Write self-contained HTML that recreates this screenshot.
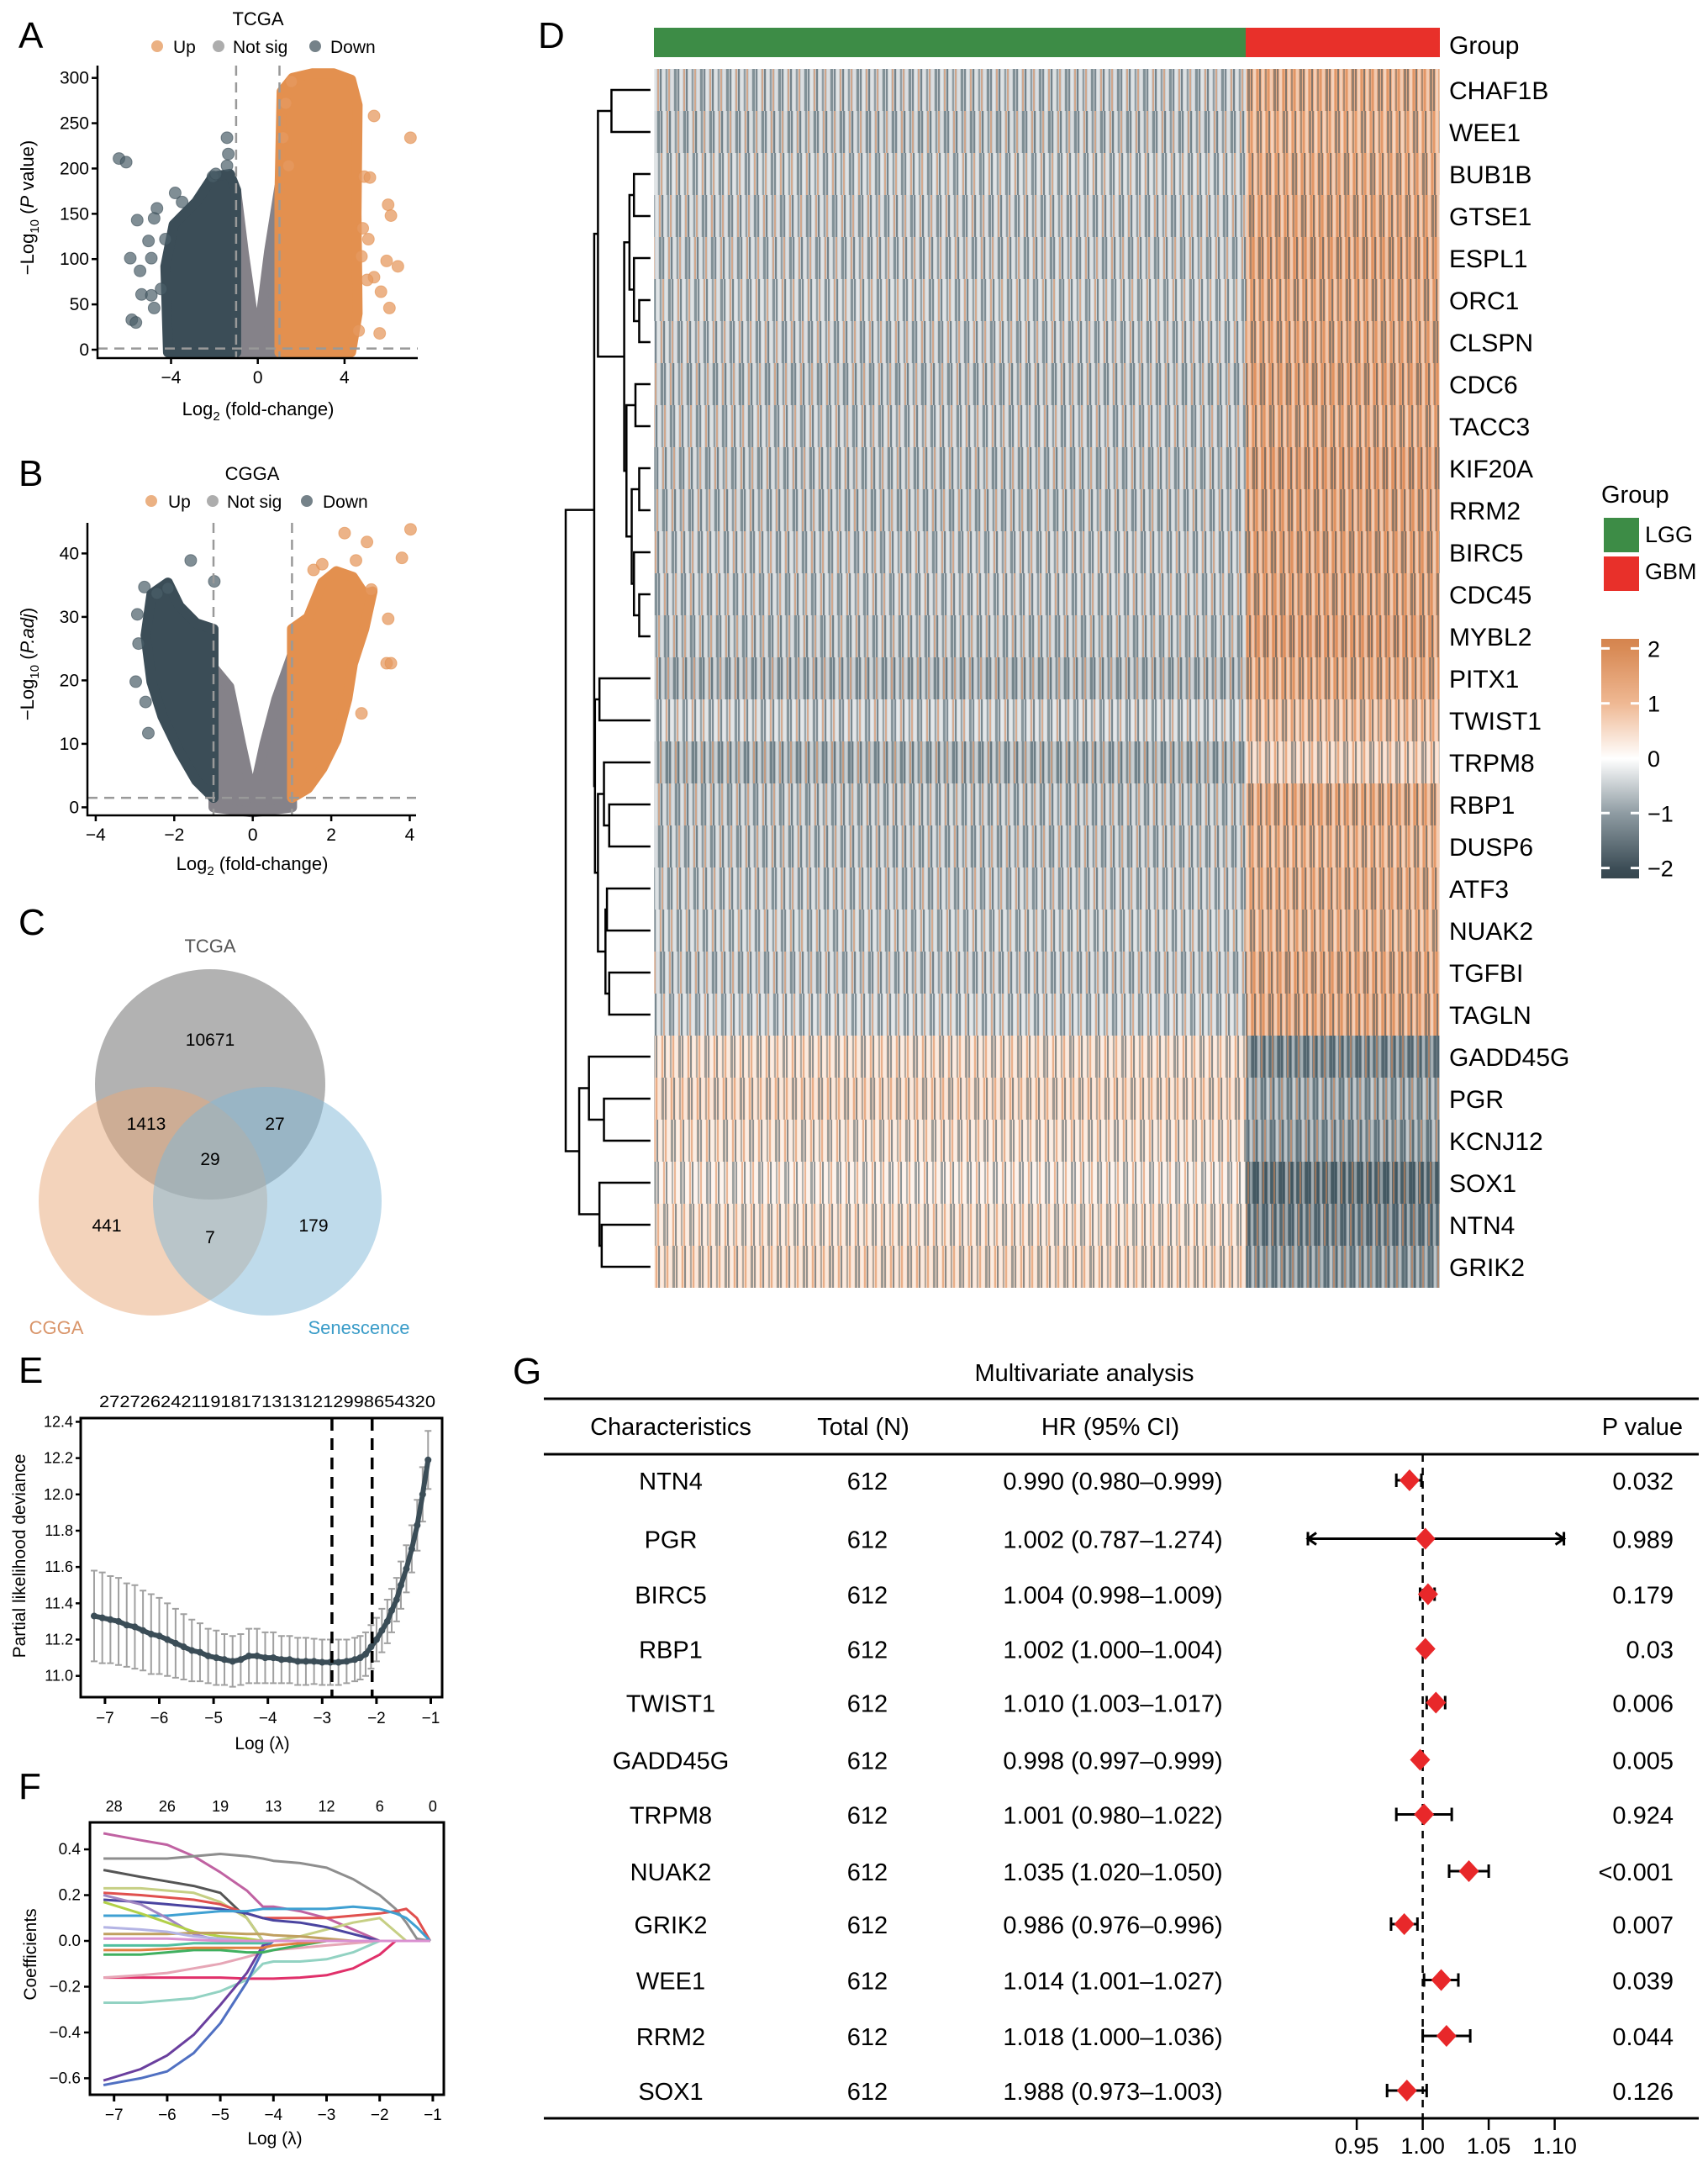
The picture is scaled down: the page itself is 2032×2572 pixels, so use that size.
<!DOCTYPE html>
<html><head><meta charset="utf-8">
<style>
html,body{margin:0;padding:0;background:#fff;}
svg{display:block;font-family:"Liberation Sans",Arial,sans-serif;}
</style></head>
<body>
<svg id="fig" width="2032" height="2572" viewBox="0 0 2032 2572" xmlns="http://www.w3.org/2000/svg">
<defs>
<pattern id="tex" width="31" height="50" patternUnits="userSpaceOnUse">
<rect x="0" y="0" width="2" height="50" fill="#2f4651" fill-opacity="0.5"/>
<rect x="3" y="0" width="3" height="50" fill="#ffffff" fill-opacity="0.45"/>
<rect x="7" y="0" width="2" height="50" fill="#d9814a" fill-opacity="0.5"/>
<rect x="10" y="0" width="2" height="50" fill="#2f4651" fill-opacity="0.55"/>
<rect x="13" y="0" width="3" height="50" fill="#ffffff" fill-opacity="0.4"/>
<rect x="17" y="0" width="2" height="50" fill="#2f4651" fill-opacity="0.35"/>
<rect x="20" y="0" width="2" height="50" fill="#d9814a" fill-opacity="0.5"/>
<rect x="23" y="0" width="3" height="50" fill="#ffffff" fill-opacity="0.35"/>
<rect x="27" y="0" width="3" height="50" fill="#2f4651" fill-opacity="0.45"/>
</pattern>
<clipPath id="hmclip"><rect x="778.3" y="82" width="934.3" height="1450"/></clipPath>
<linearGradient id="cbar" x1="0" y1="0" x2="0" y2="1">
<stop offset="0" stop-color="#d5844e"/>
<stop offset="0.04" stop-color="#d88a55"/>
<stop offset="0.27" stop-color="#efb893"/>
<stop offset="0.5" stop-color="#ffffff"/>
<stop offset="0.73" stop-color="#8e9ba2"/>
<stop offset="0.96" stop-color="#3c4d56"/>
<stop offset="1" stop-color="#37474f"/>
</linearGradient>
</defs>

<text x="22" y="57" font-size="44">A</text>
<text x="22" y="578" font-size="44">B</text>
<text x="22" y="1112" font-size="44">C</text>
<text x="22" y="1645" font-size="44">E</text>
<text x="22" y="2140" font-size="44">F</text>
<text x="640" y="57" font-size="44">D</text>
<text x="610" y="1646" font-size="44">G</text>

<g>
<text x="307" y="30" font-size="22" text-anchor="middle">TCGA</text>
<circle cx="187" cy="55" r="7" fill="#e3904f" fill-opacity="0.7"/>
<text x="206" y="63" font-size="21">Up</text>
<circle cx="260" cy="55" r="7" fill="#8a8a8a" fill-opacity="0.7"/>
<text x="277" y="63" font-size="21">Not sig</text>
<circle cx="375" cy="55" r="7" fill="#3b4d57" fill-opacity="0.7"/>
<text x="393" y="63" font-size="21">Down</text>
<text transform="translate(40,247) rotate(-90)" font-size="22" text-anchor="middle">−Log<tspan font-size="15" dy="6">10</tspan><tspan dy="-6"> (</tspan><tspan font-style="italic">P</tspan> value)</text>
<text x="307" y="494" font-size="22" text-anchor="middle">Log<tspan font-size="15" dy="6">2</tspan><tspan dy="-6"> (fold-change)</tspan></text>
</g>
<g id="gA"></g>

<g>
<text x="300" y="571" font-size="22" text-anchor="middle">CGGA</text>
<circle cx="180" cy="596" r="7" fill="#e3904f" fill-opacity="0.7"/>
<text x="200" y="604" font-size="21">Up</text>
<circle cx="253" cy="596" r="7" fill="#8a8a8a" fill-opacity="0.7"/>
<text x="270" y="604" font-size="21">Not sig</text>
<circle cx="365" cy="596" r="7" fill="#3b4d57" fill-opacity="0.7"/>
<text x="384" y="604" font-size="21">Down</text>
<text transform="translate(40,790) rotate(-90)" font-size="22" text-anchor="middle">−Log<tspan font-size="15" dy="6">10</tspan><tspan dy="-6"> (</tspan><tspan font-style="italic">P.adj</tspan>)</text>
<text x="300" y="1035" font-size="22" text-anchor="middle">Log<tspan font-size="15" dy="6">2</tspan><tspan dy="-6"> (fold-change)</tspan></text>
</g>
<g id="gB"></g>

<g>
<circle cx="250" cy="1290" r="137" fill="#7f7f7f" fill-opacity="0.6"/>
<circle cx="182" cy="1429" r="136" fill="#e8a878" fill-opacity="0.5"/>
<circle cx="318" cy="1429" r="136" fill="#7fb8d8" fill-opacity="0.5"/>
<text x="250" y="1133" font-size="22" text-anchor="middle" fill="#555">TCGA</text>
<text x="250" y="1244" font-size="21" text-anchor="middle">10671</text>
<text x="174" y="1344" font-size="21" text-anchor="middle">1413</text>
<text x="327" y="1344" font-size="21" text-anchor="middle">27</text>
<text x="250" y="1386" font-size="21" text-anchor="middle">29</text>
<text x="127" y="1465" font-size="21" text-anchor="middle">441</text>
<text x="250" y="1479" font-size="21" text-anchor="middle">7</text>
<text x="373" y="1465" font-size="21" text-anchor="middle">179</text>
<text x="67" y="1587" font-size="22" text-anchor="middle" fill="#d9956a">CGGA</text>
<text x="427" y="1587" font-size="22" text-anchor="middle" fill="#3a9cc8">Senescence</text>
</g>

<g>
<text x="118" y="1674" font-size="19" textLength="400" lengthAdjust="spacingAndGlyphs">272726242119181713131212998654320</text>
<rect x="96" y="1687" width="430" height="332" fill="none" stroke="#000" stroke-width="3"/>
<text transform="translate(30,1851) rotate(-90)" font-size="21" text-anchor="middle">Partial likelihood deviance</text>
<text x="312" y="2081" font-size="21" text-anchor="middle">Log (λ)</text>
</g>
<g id="gE"></g>

<g>
<rect x="107" y="2168" width="421" height="324" fill="none" stroke="#000" stroke-width="3"/>
<text transform="translate(43,2325) rotate(-90)" font-size="21" text-anchor="middle">Coefficients</text>
<text x="327" y="2551" font-size="21" text-anchor="middle">Log (λ)</text>
</g>
<g id="gF"></g>

<g>
<rect x="778" y="33" width="704" height="35" fill="#3d8c46"/>
<rect x="1482" y="33" width="231" height="35" fill="#e8302a"/>
<text x="1724" y="64" font-size="30">Group</text>
<text x="1905" y="598" font-size="29">Group</text>
<rect x="1908" y="616" width="42" height="41" fill="#3d8c46"/>
<text x="1957" y="645" font-size="27">LGG</text>
<rect x="1908" y="662" width="42" height="41" fill="#e8302a"/>
<text x="1957" y="689" font-size="27">GBM</text>
<rect x="1905" y="760" width="45" height="285" fill="url(#cbar)"/>
</g>
<g id="gD"></g>

<g>
<text x="1290" y="1643" font-size="29" text-anchor="middle">Multivariate analysis</text>
<line x1="647" y1="1664" x2="2021" y2="1664" stroke="#000" stroke-width="3"/>
<text x="798" y="1707" font-size="29" text-anchor="middle">Characteristics</text>
<text x="1027" y="1707" font-size="29" text-anchor="middle">Total (N)</text>
<text x="1321" y="1707" font-size="29" text-anchor="middle">HR (95% CI)</text>
<text x="2002" y="1707" font-size="29" text-anchor="end">P value</text>
<line x1="647" y1="1730" x2="2021" y2="1730" stroke="#000" stroke-width="3"/>
<line x1="647" y1="2520" x2="2021" y2="2520" stroke="#000" stroke-width="3"/>
<line x1="1692.6" y1="1730" x2="1692.6" y2="2520" stroke="#000" stroke-width="2.5" stroke-dasharray="9,7"/>
</g>
<g id="gG"></g>
</svg>

<script>
const aUpCloud = [[1.0,-3],[1.0,170],[1.1,285],[1.6,300],[2.5,305],[3.5,305],[4.3,298],[4.6,270],[4.55,150],[4.6,40],[4.3,-3]];
const aDownCloud = [[-4.14,-3],[-4.26,92],[-3.88,138],[-2.84,163],[-2.07,191],[-1.29,194],[-1.0,176],[-1.0,-3]];
const aNsCloud = [[-1.0,-3],[-1.0,176],[-0.65,108],[-0.13,21],[0.06,21],[0.52,108],[1.0,180],[1.0,-3]];
const aDownPts = [[-6.40,211],[-6.07,207],[-5.56,143],[-4.65,156],[-4.78,145],[-5.04,120],[-5.88,101],[-5.43,87],[-4.91,101],[-4.26,122],[-5.36,61],[-4.91,60],[-4.78,46],[-5.81,33],[-5.62,30],[-4.46,67],[-3.81,173],[-3.49,163],[-1.42,234],[-1.36,216],[-1.42,203],[-2.07,191],[-1.94,194]];
const aUpPts = [[7.04,234],[5.36,258],[4.91,191],[5.17,190],[6.01,160],[6.14,148],[5.94,98],[6.46,92],[4.84,134],[5.10,122],[4.78,103],[5.36,80],[5.04,77],[5.68,64],[6.07,46],[5.62,18],[4.65,21],[1.16,234],[1.55,296],[1.29,272],[1.42,203]];
const aXTicks = [-4,0,4];
const aYTicks = [0,50,100,150,200,250,300];

const bUpCloud = [[1.0,1.5],[1.0,28.1],[1.41,29.9],[1.77,35.4],[2.13,37.2],[2.55,36.3],[2.84,33.6],[3.05,34.0],[2.84,28.1],[2.55,22.6],[2.41,17.1],[2.13,10.6],[1.77,6.1],[1.41,3.0]];
const bDownCloud = [[-1.0,1.5],[-1.44,4.2],[-1.87,8.8],[-2.3,14.3],[-2.58,19.8],[-2.73,27.1],[-2.58,33.6],[-2.16,35.4],[-1.87,31.7],[-1.44,29.0],[-1.0,28.1]];
const bNsCloud = [[-1.0,0],[-1.0,22],[-0.6,19],[-0.3,10],[0,1.5],[0.3,10],[0.6,17],[1.0,24],[1.0,0],[0,-0.8]];
const bDownPts = [[-2.76,34.7],[-2.94,30.4],[-2.91,25.8],[-2.98,19.8],[-2.73,16.6],[-2.66,11.7],[-1.58,38.9],[-0.98,35.6],[-2.44,33.7],[-2.16,34.5]];
const bUpPts = [[4.02,43.8],[3.80,39.3],[2.91,41.8],[2.34,43.2],[2.63,38.9],[3.45,29.7],[3.41,22.7],[3.52,22.7],[3.02,34.3],[1.55,37.4],[1.77,38.3],[2.77,14.8]];
const bXTicks = [-4,-2,0,2,4];
const bYTicks = [0,10,20,30,40];

const eLam = [-7.2,-7.05,-6.9,-6.75,-6.6,-6.45,-6.3,-6.15,-6.0,-5.85,-5.7,-5.55,-5.4,-5.25,-5.1,-4.95,-4.8,-4.65,-4.5,-4.35,-4.2,-4.05,-3.9,-3.75,-3.6,-3.45,-3.3,-3.15,-3.0,-2.85,-2.7,-2.55,-2.4,-2.3,-2.2,-2.1,-2.0,-1.9,-1.8,-1.72,-1.63,-1.55,-1.45,-1.35,-1.25,-1.15,-1.05];
const eMean = [11.33,11.32,11.31,11.30,11.28,11.27,11.25,11.23,11.22,11.20,11.18,11.16,11.14,11.13,11.11,11.10,11.09,11.08,11.09,11.11,11.11,11.10,11.10,11.09,11.09,11.08,11.08,11.08,11.075,11.075,11.075,11.08,11.09,11.10,11.12,11.16,11.20,11.25,11.30,11.36,11.42,11.50,11.59,11.70,11.83,12.0,12.19];
const eSE = [0.25,0.25,0.24,0.24,0.23,0.23,0.22,0.22,0.21,0.20,0.19,0.18,0.17,0.16,0.15,0.15,0.14,0.14,0.14,0.15,0.15,0.14,0.14,0.13,0.13,0.13,0.13,0.125,0.125,0.125,0.125,0.12,0.12,0.12,0.12,0.12,0.12,0.12,0.12,0.12,0.12,0.13,0.13,0.13,0.14,0.15,0.16];
const eCut = [-2.82,-2.08];
const eXTicks = [-7,-6,-5,-4,-3,-2,-1];
const eYTicks = [11.0,11.2,11.4,11.6,11.8,12.0,12.2,12.4];

const fLam = [-7.2,-6.5,-6,-5.5,-5,-4.5,-4.2,-4,-3.5,-3,-2.5,-2,-1.7,-1.5,-1.3,-1.05];
const fColors = ["#c062a2","#8e8e8e","#555555","#c6cf84","#e0504e","#4a44a0","#3fa0d2","#a186c2","#b2d048","#e0306a","#e6a6b6","#92d2c2","#6a3f9e","#5070c2","#40b060","#e08040","#c0a060","#b4b4e4","#50c0a0","#d990d0"];
const fSeries = [
 [0.47,0.44,0.42,0.37,0.30,0.22,0.15,0.15,0.13,0.10,0.05,0.0,0,0,0,0],
 [0.36,0.36,0.36,0.37,0.38,0.37,0.36,0.35,0.34,0.32,0.27,0.20,0.14,0.08,0.01,0],
 [0.31,0.28,0.26,0.24,0.21,0.10,0.0,0,0,0,0,0,0,0,0,0],
 [0.23,0.23,0.22,0.21,0.17,0.10,0.0,0.0,0.02,0.05,0.08,0.10,0.04,0,0,0],
 [0.21,0.20,0.19,0.18,0.16,0.12,0.10,0.10,0.10,0.10,0.11,0.12,0.13,0.14,0.10,0],
 [0.18,0.17,0.16,0.15,0.14,0.12,0.10,0.09,0.08,0.06,0.03,0.0,0,0,0,0],
 [0.11,0.11,0.11,0.12,0.13,0.13,0.14,0.14,0.14,0.14,0.15,0.14,0.12,0.10,0.06,0],
 [0.20,0.16,0.10,0.03,0.0,0,0,0,0,0,0,0,0,0,0,0],
 [0.17,0.12,0.08,0.04,0.02,0.01,0,0,0,0,0,0,0,0,0,0],
 [-0.16,-0.16,-0.16,-0.16,-0.16,-0.165,-0.165,-0.165,-0.16,-0.15,-0.12,-0.06,0,0,0,0],
 [-0.16,-0.15,-0.14,-0.12,-0.10,-0.07,-0.05,-0.04,-0.03,-0.02,-0.01,0,0,0,0,0],
 [-0.27,-0.27,-0.26,-0.25,-0.22,-0.17,-0.10,-0.09,-0.09,-0.08,-0.05,0,0,0,0,0],
 [-0.61,-0.56,-0.50,-0.41,-0.28,-0.14,-0.02,0,0,0,0,0,0,0,0,0],
 [-0.63,-0.60,-0.57,-0.49,-0.36,-0.18,-0.04,0,0,0,0,0,0,0,0,0],
 [-0.06,-0.06,-0.05,-0.04,-0.04,-0.05,-0.05,-0.04,-0.02,0,0,0,0,0,0,0],
 [-0.04,-0.04,-0.035,-0.03,-0.03,-0.03,-0.03,-0.02,-0.01,0,0,0,0,0,0,0],
 [0.03,0.03,0.03,0.035,0.035,0.03,0.03,0.025,0.02,0.01,0,0,0,0,0,0],
 [0.06,0.05,0.04,0.02,0.01,0,0,0,0,0,0,0,0,0,0,0],
 [-0.02,-0.02,-0.02,-0.01,-0.01,-0.01,-0.01,0,0,0,0,0,0,0,0,0],
 [0.01,0.01,0.01,0.005,0,0,0,0,0,0,0,0,0,0,0,0]
];
const fTopLam = [-7,-6,-5,-4,-3,-2,-1];
const fTopCounts = ["28","26","19","13","12","6","0"];
const fXTicks = [-7,-6,-5,-4,-3,-2,-1];
const fYTicks = [-0.6,-0.4,-0.2,0.0,0.2,0.4];

const genes = ["CHAF1B","WEE1","BUB1B","GTSE1","ESPL1","ORC1","CLSPN","CDC6","TACC3","KIF20A","RRM2","BIRC5","CDC45","MYBL2","PITX1","TWIST1","TRPM8","RBP1","DUSP6","ATF3","NUAK2","TGFBI","TAGLN","GADD45G","PGR","KCNJ12","SOX1","NTN4","GRIK2"];
const lggMean = [-0.5,-0.55,-0.45,-0.5,-0.5,-0.45,-0.5,-0.55,-0.5,-0.55,-0.55,-0.5,-0.5,-0.55,-0.7,-0.4,-0.75,-0.55,-0.55,-0.5,-0.45,-0.5,-0.4,0.45,0.55,0.4,0.25,0.4,0.5];
const gbmMean = [1.2,1.1,1.2,1.3,1.4,1.3,1.3,1.4,1.3,1.5,1.4,1.4,1.4,1.5,1.3,0.9,0.6,1.3,1.1,1.2,1.1,1.3,1.3,-1.3,-0.9,-1.0,-1.6,-1.4,-1.1];
const cbarTicks = [2,1,0,-1,-2];
const dendroTree = [37,
  [75,
    [80,[98,0,1],[115,[122,[128,2,3],[128,4,[135,5,6]]],[118,[130,7,8],[125,[135,9,10],[128,11,[135,12,13]]]]]],
    [76,[82,14,15],[80,[88,16,[95,17,18]],[90,[92,19,20],[95,21,22]]]]],
  [55,[68,23,[88,24,25]],[82,26,[85,27,28]]]];

const fgGenes = ["NTN4","PGR","BIRC5","RBP1","TWIST1","GADD45G","TRPM8","NUAK2","GRIK2","WEE1","RRM2","SOX1"];
const fgN = ["612","612","612","612","612","612","612","612","612","612","612","612"];
const fgHRtext = ["0.990 (0.980–0.999)","1.002 (0.787–1.274)","1.004 (0.998–1.009)","1.002 (1.000–1.004)","1.010 (1.003–1.017)","0.998 (0.997–0.999)","1.001 (0.980–1.022)","1.035 (1.020–1.050)","0.986 (0.976–0.996)","1.014 (1.001–1.027)","1.018 (1.000–1.036)","1.988 (0.973–1.003)"];
const fgHR = [0.990,1.002,1.004,1.002,1.010,0.998,1.001,1.035,0.986,1.014,1.018,0.988];
const fgLo = [0.980,0.787,0.998,1.000,1.003,0.997,0.980,1.020,0.976,1.001,1.000,0.973];
const fgHi = [0.999,1.274,1.009,1.004,1.017,0.999,1.022,1.050,0.996,1.027,1.036,1.003];
const fgP = ["0.032","0.989","0.179","0.03","0.006","0.005","0.924","<0.001","0.007","0.039","0.044","0.126"];
const fgTicks = [0.95,1.00,1.05,1.10];
const fgTickLabels = ["0.95","1.00","1.05","1.10"];

const NS = "http://www.w3.org/2000/svg";
function mk(tag, attrs, parent){
  const e = document.createElementNS(NS, tag);
  for (const k in attrs) e.setAttribute(k, attrs[k]);
  parent.appendChild(e);
  return e;
}
function txt(parent, x, y, s, size, anchor){
  const t = mk("text", {x:x, y:y, "font-size":size, "text-anchor":anchor||"start"}, parent);
  t.textContent = s;
  return t;
}
function fmt(v, d){ return (v<0?"−":"") + Math.abs(v).toFixed(d); }

function volcano(g, xs, ys, cfg){
  const polys = [[cfg.ns,"#858289","ns-cloud"],[cfg.down,"#3b4d57","down-cloud"],[cfg.up,"#e3904f","up-cloud"]];
  polys.forEach(p=>{
    const pts = p[0].map(q=>xs(q[0]).toFixed(1)+","+ys(q[1]).toFixed(1)).join(" ");
    const el = mk("polygon",{points:pts, fill:p[1], stroke:p[1], "stroke-width":12, "stroke-linejoin":"round"}, g);
    
    
  });
  cfg.downPts.forEach(q=>{
    const c = mk("circle",{cx:xs(q[0]), cy:ys(q[1]), r:7, fill:"#4a5e68", "fill-opacity":0.7, stroke:"#3b4d57", "stroke-opacity":0.6}, g);
    
    
  });
  cfg.upPts.forEach(q=>{
    const c = mk("circle",{cx:xs(q[0]), cy:ys(q[1]), r:7, fill:"#e69a60", "fill-opacity":0.75, stroke:"#e3904f", "stroke-opacity":0.6}, g);
    
    
  });
  [-1,1].forEach(v=>{
    const l = mk("line",{x1:xs(v), x2:xs(v), y1:cfg.top, y2:cfg.bottom, stroke:"#999", "stroke-width":2.5, "stroke-dasharray":"12,8"}, g);
    
    
  });
  const h = mk("line",{x1:cfg.left, x2:cfg.right, y1:ys(cfg.pth), y2:ys(cfg.pth), stroke:"#999", "stroke-width":2.5, "stroke-dasharray":"12,8"}, g);
  
  
  const ax = mk("path",{d:`M${cfg.left},${cfg.top} V${cfg.bottom} H${cfg.right}`, fill:"none", stroke:"#000", "stroke-width":2.5}, g);
  
  
  cfg.yt.forEach(v=>{
    const tk = mk("line",{x1:cfg.left-7, x2:cfg.left, y1:ys(v), y2:ys(v), stroke:"#000", "stroke-width":2.5}, g);
    
    
    const t = txt(g, cfg.left-10, ys(v)+7, String(v), 21, "end");
    
    
  });
  cfg.xt.forEach(v=>{
    const tk = mk("line",{x1:xs(v), x2:xs(v), y1:cfg.bottom, y2:cfg.bottom+7, stroke:"#000", "stroke-width":2.5}, g);
    
    
    const t = txt(g, xs(v), cfg.bottom+30, fmt(v,0), 21, "middle");
    
    
  });
}
const gA = document.getElementById("gA");
volcano(gA, v=>306.7+25.8*v, v=>416-1.0777*v, {up:aUpCloud, down:aDownCloud, ns:aNsCloud, upPts:aUpPts, downPts:aDownPts, xt:aXTicks, yt:aYTicks, left:116, right:497, top:78, bottom:426, pth:1.3});
const gB = document.getElementById("gB");
volcano(gB, v=>300.7+46.7*v, v=>960.4-7.55*v, {up:bUpCloud, down:bDownCloud, ns:bNsCloud, upPts:bUpPts, downPts:bDownPts, xt:bXTicks, yt:bYTicks, left:104, right:495, top:622, bottom:970, pth:1.5});

const gE = document.getElementById("gE");
const exs = v=>124.9+64.6*(v+7);
const eys = v=>1993.7-215.9*(v-11);
eYTicks.forEach(v=>{
  const tk = mk("line",{x1:90, x2:96, y1:eys(v), y2:eys(v), stroke:"#000", "stroke-width":2.5}, gE);
  
  
  const t = txt(gE, 87, eys(v)+6, v.toFixed(1), 18, "end");
  
  
});
eXTicks.forEach(v=>{
  const tk = mk("line",{x1:exs(v), x2:exs(v), y1:2019, y2:2027, stroke:"#000", "stroke-width":3}, gE);
  
  
  const t = txt(gE, exs(v), 2050, fmt(v,0), 19, "middle");
  
  
});
eLam.forEach((l,i)=>{
  const x = exs(l), y1 = eys(eMean[i]-eSE[i]), y2 = eys(eMean[i]+eSE[i]);
  const b = mk("path",{d:`M${x},${y1}V${y2}M${x-4},${y1}H${x+4}M${x-4},${y2}H${x+4}`, stroke:"#a0a0a0", "stroke-width":2, fill:"none"}, gE);
  
  
});
{
  const ln = mk("polyline",{points:eLam.map((l,i)=>exs(l).toFixed(1)+","+eys(eMean[i]).toFixed(1)).join(" "), fill:"none", stroke:"#3b4d57", "stroke-width":6}, gE);
  
  
}
eLam.forEach((l,i)=>{
  const c = mk("circle",{cx:exs(l), cy:eys(eMean[i]), r:4, fill:"#3b4d57"}, gE);
  
  
});
eCut.forEach(v=>{
  const l = mk("line",{x1:exs(v), x2:exs(v), y1:1688, y2:2018, stroke:"#000", "stroke-width":3.5, "stroke-dasharray":"14,9"}, gE);
  
  
});

const gF = document.getElementById("gF");
const fxs = v=>135.7+63.2*(v+7);
const fys = v=>2309-272.3*v;
fYTicks.forEach(v=>{
  const tk = mk("line",{x1:100, x2:107, y1:fys(v), y2:fys(v), stroke:"#000", "stroke-width":2.5}, gF);
  
  
  const t = txt(gF, 96, fys(v)+6, fmt(v,1), 19, "end");
  
  
});
fXTicks.forEach(v=>{
  const tk = mk("line",{x1:fxs(v), x2:fxs(v), y1:2492, y2:2500, stroke:"#000", "stroke-width":3}, gF);
  
  
  const t = txt(gF, fxs(v), 2522, fmt(v,0), 19, "middle");
  
  
});
fTopLam.forEach((v,i)=>{
  const t = txt(gF, fxs(v), 2155, fTopCounts[i], 18, "middle");
  
  
});
fSeries.forEach((s,k)=>{
  const p = mk("polyline",{points:fLam.map((l,i)=>fxs(l).toFixed(1)+","+fys(s[i]).toFixed(1)).join(" "), fill:"none", stroke:fColors[k], "stroke-width":3, "stroke-linejoin":"round"}, gF);
  
  
});

const gD = document.getElementById("gD");
const hmLeft = 778.3, hmMid = 1482.3, hmRight = 1712.6, hmTop = 82, rowH = 50;
const stops = [[-2,[47,70,81]],[-1,[142,155,162]],[0,[255,255,255]],[1,[240,184,147]],[2,[216,130,78]]];
function hcol(v){
  v = Math.max(-2, Math.min(2, v));
  for (let i=0;i<stops.length-1;i++){
    const a=stops[i], b=stops[i+1];
    if (v>=a[0] && v<=b[0]){
      const t=(v-a[0])/(b[0]-a[0]);
      const c=a[1].map((x,j)=>Math.round(x+(b[1][j]-x)*t));
      return `rgb(${c[0]},${c[1]},${c[2]})`;
    }
  }
  return "#fff";
}
const hy = i=>hmTop+rowH*(i+0.5);
const hmClip = mk("g",{"clip-path":"url(#hmclip)"}, gD);


genes.forEach((g,i)=>{
  const y = hmTop+rowH*i;
  const r1 = mk("rect",{x:hmLeft, y:y, width:hmMid-hmLeft, height:rowH, fill:hcol(lggMean[i])}, hmClip);
  
  
  const r2 = mk("rect",{x:hmMid, y:y, width:hmRight-hmMid, height:rowH, fill:hcol(gbmMean[i])}, hmClip);
  
  
  const off = (i*11)%31;
  const tx = mk("rect",{x:hmLeft-31, y:y, width:hmRight-hmLeft+62, height:rowH, fill:"url(#tex)", transform:`translate(${off},0)`}, hmClip);
  
  
  const t = txt(gD, 1724, hy(i)+11, g, 30, "start");
  
  
});
function dend(node){
  if (typeof node === "number") return {x:773.8, y:hy(node)};
  const A = dend(node[1]), B = dend(node[2]);
  const X = 640 + node[0]/1.1207;
  const p = mk("path",{d:`M${A.x},${A.y}H${X}V${B.y}H${B.x}`, fill:"none", stroke:"#000", "stroke-width":2.5}, gD);
  
  
  return {x:X, y:(A.y+B.y)/2};
}
dend(dendroTree);
const cbY = v=>902-65.3*v;
cbarTicks.forEach(v=>{
  const d1 = mk("path",{d:`M1905,${cbY(v)}h10M1940,${cbY(v)}h10`, stroke:"#fff", "stroke-width":3}, gD);
  
  
  const t = txt(gD, 1960, cbY(v)+10, fmt(v,0), 27, "start");
  
  
});

const gG = document.getElementById("gG");
const gxs = v=>1692.6+1570*(v-1);
const rowY = [1761,1830.5,1896.5,1961.5,2025.5,2093.5,2158.5,2226,2289,2355.5,2422,2487];
fgGenes.forEach((g,i)=>{
  const y = rowY[i];
  const t1 = txt(gG, 798, y+11, g, 29, "middle");
  
  
  const t2 = txt(gG, 1032, y+11, fgN[i], 29, "middle");
  
  
  const t3 = txt(gG, 1324, y+11, fgHRtext[i], 29, "middle");
  
  
  const t4 = txt(gG, 1991, y+11, fgP[i], 29, "end");
  
  
  const lo = Math.max(fgLo[i], 0.913), hi = Math.min(fgHi[i], 1.107);
  const x1 = gxs(lo), x2 = gxs(hi);
  let d = `M${x1},${y}H${x2}`;
  d += (fgLo[i] < 0.913) ? `M${x1+10},${y-7}L${x1},${y}L${x1+10},${y+7}M${x1},${y-8}V${y+8}` : `M${x1},${y-8}V${y+8}`;
  d += (fgHi[i] > 1.107) ? `M${x2-10},${y-7}L${x2},${y}L${x2-10},${y+7}M${x2},${y-8}V${y+8}` : `M${x2},${y-8}V${y+8}`;
  const ci = mk("path",{d:d, fill:"none", stroke:"#000", "stroke-width":3}, gG);
  
  
  const cx = gxs(fgHR[i]);
  const dm = mk("polygon",{points:`${cx},${y-13} ${cx+12},${y} ${cx},${y+13} ${cx-12},${y}`, fill:"#e8282a"}, gG);
  
  
});
fgTicks.forEach((v,i)=>{
  const tk = mk("line",{x1:gxs(v), x2:gxs(v), y1:2520, y2:2534, stroke:"#000", "stroke-width":2.5}, gG);
  
  
  const t = txt(gG, gxs(v), 2562, fgTickLabels[i], 27, "middle");
  
  
});
</script>
</body></html>
